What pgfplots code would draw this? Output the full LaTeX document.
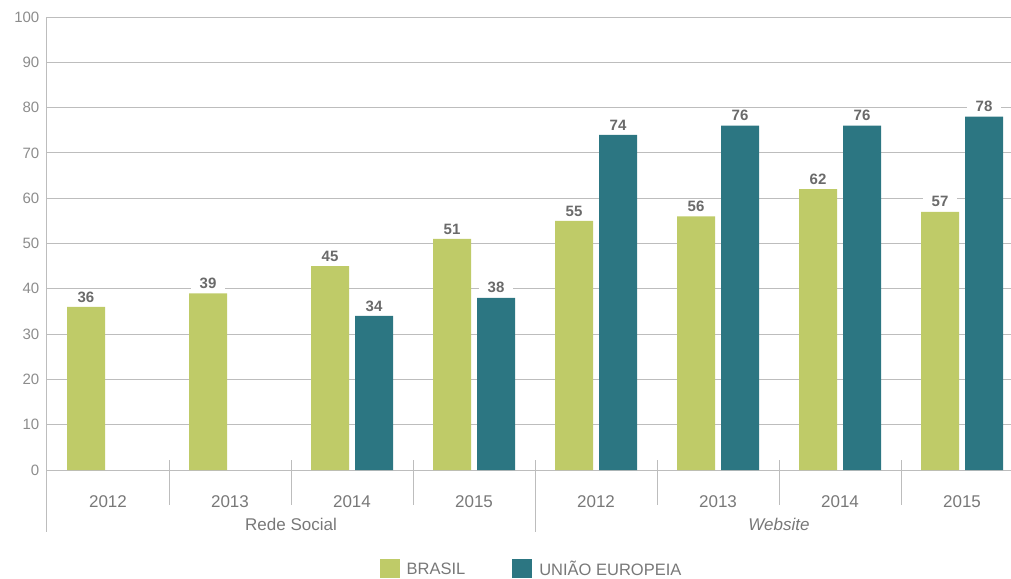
\documentclass[border=0pt]{standalone}
\usepackage{fontspec}
\setmainfont{Liberation Sans}
\usepackage{pgfplots}
\pgfplotsset{compat=1.18}
\definecolor{bra}{HTML}{BFCB68}
\definecolor{ue}{HTML}{2C7682}
\definecolor{gridc}{HTML}{BDBDBD}
\definecolor{txt}{HTML}{787878}
\definecolor{ytxt}{HTML}{8C8C8C}
\definecolor{lab}{HTML}{6A6A6A}
\begin{document}
\begin{tikzpicture}
\useasboundingbox (-47pt,-108pt) rectangle (964pt,470pt);
\begin{axis}[
  at={(0pt,0pt)}, anchor=south west,
  scale only axis, width=964pt, height=453pt,
  xmin=-0.5, xmax=7.4016, ymin=0, ymax=100,
  axis x line=bottom, axis y line=left,
  axis line style={gridc, line width=1pt, -},
  ytick={0,10,...,100}, ymajorgrids,
  grid style={gridc, line width=0.8pt},
  ytick style={draw=none}, xtick style={draw=none},
  xtick={0,...,7},
  xticklabels={2012,2013,2014,2015,2012,2013,2014,2015},
  xticklabel style={anchor=center, yshift=-27pt, font=\fontsize{17}{17}\selectfont, text=txt},
  yticklabel style={font=\fontsize{15}{15}\selectfont, text=ytxt, xshift=-2pt},
  /pgf/number format/assume math mode=true,
  ybar=6pt, bar width=38pt,
  clip=false,
  nodes near coords,
  nodes near coords style={font=\bfseries\fontsize{15}{15}\selectfont, text=lab, fill=white, inner sep=2pt, yshift=2.5pt, minimum width=34pt},
  legend style={at={(0.5026,-0.2185)}, anchor=center, draw=none, fill=none,
    legend columns=2, font=\fontsize{16.5}{16.5}\selectfont, text=txt,
    /tikz/every even column/.append style={column sep=45pt},
    /tikz/every odd column/.append style={column sep=5pt}},
  legend image code/.code={\fill[#1] (0pt,-9pt) rectangle (20pt,10pt);},
]
\addplot[fill=bra, draw=none] coordinates {(0,36) (1,39) (2,45) (3,51) (4,55) (5,56) (6,62) (7,57)};
\addplot[fill=ue, draw=none] coordinates {(2,34) (3,38) (4,74) (5,76) (6,76) (7,78)};
\legend{BRASIL, UNIÃO EUROPEIA}
\pgfplotsinvokeforeach{0.5,1.5,2.5,4.5,5.5,6.5}{
  \draw[gridc, line width=1pt] ([yshift=10pt]axis cs:#1,0) -- ([yshift=-35pt]axis cs:#1,0);
}
\draw[gridc, line width=1pt] (axis cs:-0.5,0) -- ([yshift=-62pt]axis cs:-0.5,0);
\draw[gridc, line width=1pt] ([yshift=10pt]axis cs:3.5,0) -- ([yshift=-62pt]axis cs:3.5,0);
\node[text=txt, font=\fontsize{17}{17}\selectfont] at ([yshift=-54pt]axis cs:1.5,0) {Rede Social};
\node[text=txt, font=\itshape\fontsize{17}{17}\selectfont] at ([yshift=-54pt]axis cs:5.5,0) {Website};
\end{axis}
\end{tikzpicture}
\end{document}
